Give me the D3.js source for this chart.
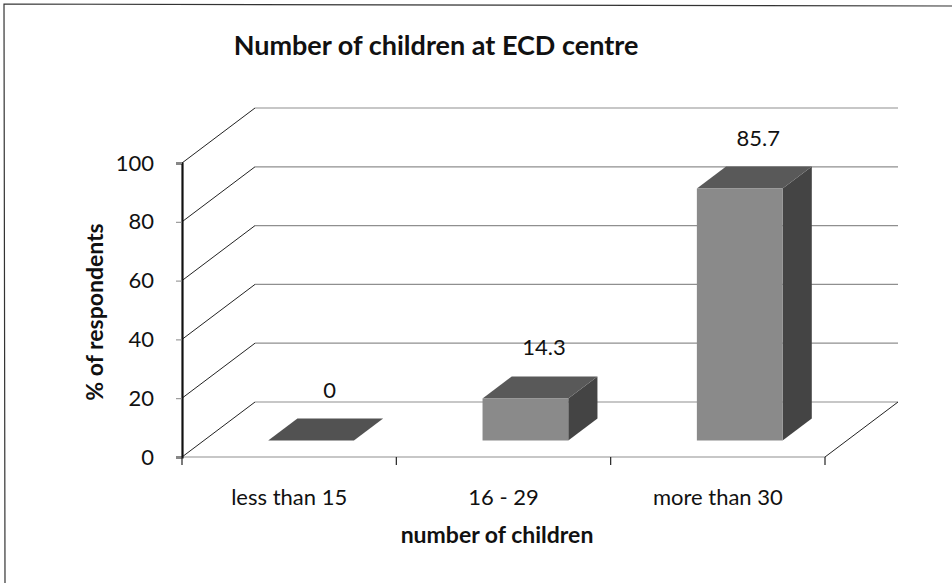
<!DOCTYPE html>
<html>
<head>
<meta charset="utf-8">
<script src="https://cdn.jsdelivr.net/npm/d3@7"></script>
<style>
  html, body { margin: 0; padding: 0; background: #fff; }
  svg { display: block; font-family: Lato, "Open Sans", sans-serif; }
</style>
</head>
<body>
<svg id="chart" width="952" height="583"></svg>
<script>
// Chart data
const categories = ["less than 15", "16 - 29", "more than 30"];
const values = [0, 14.3, 85.7];
const yTicks = [0, 20, 40, 60, 80, 100];
const title = "Number of children at ECD centre";
const xTitle = "number of children";
const yTitle = "% of respondents";

const svg = d3.select("#chart");

// Plot frame (front plane) and 3D depth offset of the back wall
const x0 = 182, x1 = 825, yBottom = 457, yTop = 163;
const depth = { dx: 73, dy: -55 };
const barFront = 0.3, barBack = 0.7;   // bar position within the floor depth

const x = d3.scaleBand().domain(categories).range([x0, x1]);
const y = d3.scaleLinear().domain([0, 100]).range([yBottom, yTop]);

const ink = "#111";

// Outer border (left and top edges)
svg.append("path")
  .attr("d", `M5,583 L4,4 L952,6`)
  .attr("fill", "none").attr("stroke", "#333").attr("stroke-width", 1.2);

// Title
svg.append("text")
  .attr("x", 436).attr("y", 55)
  .attr("text-anchor", "middle")
  .attr("font-size", 27).attr("font-weight", "bold").attr("fill", ink)
  .text(title);

// Back wall gridlines
const gBack = svg.append("g");
gBack.selectAll("line.grid").data(yTicks).join("line")
  .attr("x1", x0 + depth.dx).attr("x2", x1 + depth.dx)
  .attr("y1", d => y(d) + depth.dy).attr("y2", d => y(d) + depth.dy)
  .attr("stroke", "#8f8f8f").attr("stroke-width", 1.2);

// Side wall diagonals from each front tick to the back wall
gBack.selectAll("line.diag").data(yTicks).join("line")
  .attr("x1", x0).attr("y1", d => y(d))
  .attr("x2", x0 + depth.dx).attr("y2", d => y(d) + depth.dy)
  .attr("stroke", "#222").attr("stroke-width", 1);

// Floor: front edge and right edge
svg.append("line")
  .attr("x1", x0).attr("x2", x1).attr("y1", y(0)).attr("y2", y(0))
  .attr("stroke", "#8f8f8f").attr("stroke-width", 1.2);
svg.append("line")
  .attr("x1", x1).attr("y1", y(0))
  .attr("x2", x1 + depth.dx).attr("y2", y(0) + depth.dy)
  .attr("stroke", "#222").attr("stroke-width", 1);

// Bars as prisms
const bw = x.bandwidth() * 0.4;
const fx = barFront * depth.dx, fy = barFront * depth.dy;
const bx = barBack * depth.dx, by = barBack * depth.dy;
const ddx = bx - fx, ddy = by - fy;

const bars = svg.append("g").selectAll("g.bar")
  .data(categories.map((c, i) => ({ c, v: values[i] })))
  .join("g");

bars.each(function(d) {
  const g = d3.select(this);
  const left = x(d.c) + (x.bandwidth() - bw) / 2 + fx;
  const right = left + bw;
  const bottom = y(0) + fy;
  const top = y(d.v) + fy;
  // right side face
  if (d.v > 0) {
    g.append("path")
      .attr("d", `M${right},${bottom} L${right + ddx},${bottom + ddy} L${right + ddx},${top + ddy} L${right},${top} Z`)
      .attr("fill", "#444");
  }
  // top face
  g.append("path")
    .attr("d", `M${left},${top} L${right},${top} L${right + ddx},${top + ddy} L${left + ddx},${top + ddy} Z`)
    .attr("fill", d.v > 0 ? "#595959" : "#525252");
  // front face
  if (d.v > 0) {
    g.append("rect")
      .attr("x", left).attr("y", top)
      .attr("width", bw).attr("height", bottom - top)
      .attr("fill", "#8a8a8a");
  }
  // value label
  g.append("text")
    .attr("x", left + bw / 2 + ddx / 2 + 4)
    .attr("y", top + ddy / 2 - 32)
    .attr("text-anchor", "middle")
    .attr("font-size", 22).attr("fill", ink)
    .text(d.v);
});

// Y axis
const yAxis = d3.axisLeft(y).tickValues(yTicks).tickSize(6).tickPadding(22);
const gy = svg.append("g").attr("transform", `translate(${x0},0)`).call(yAxis);
gy.select(".domain").attr("stroke", "#111").attr("stroke-width", 2.2);
gy.selectAll(".tick line").attr("stroke", "#888");
gy.selectAll(".tick text").attr("font-size", 22).attr("fill", ink).attr("font-family", "Lato, sans-serif");

// X axis ticks at category boundaries
const boundaries = [x0, ...categories.map(c => x(c) + x.bandwidth())];
svg.append("g").selectAll("line").data(boundaries).join("line")
  .attr("x1", d => d).attr("x2", d => d)
  .attr("y1", y(0)).attr("y2", y(0) + 8)
  .attr("stroke", "#222").attr("stroke-width", 1.2);

// Category labels
svg.append("g").selectAll("text").data(categories).join("text")
  .attr("x", d => x(d) + x.bandwidth() / 2)
  .attr("y", 505)
  .attr("text-anchor", "middle")
  .attr("font-size", 22).attr("fill", ink)
  .text(d => d);

// Axis titles
svg.append("text")
  .attr("x", 497).attr("y", 543)
  .attr("text-anchor", "middle")
  .attr("font-size", 23).attr("font-weight", "bold").attr("fill", ink)
  .text(xTitle);

svg.append("text")
  .attr("transform", "translate(103,312) rotate(-90)")
  .attr("text-anchor", "middle")
  .attr("font-size", 23).attr("font-weight", "bold").attr("fill", ink)
  .text(yTitle);
</script>
</body>
</html>
